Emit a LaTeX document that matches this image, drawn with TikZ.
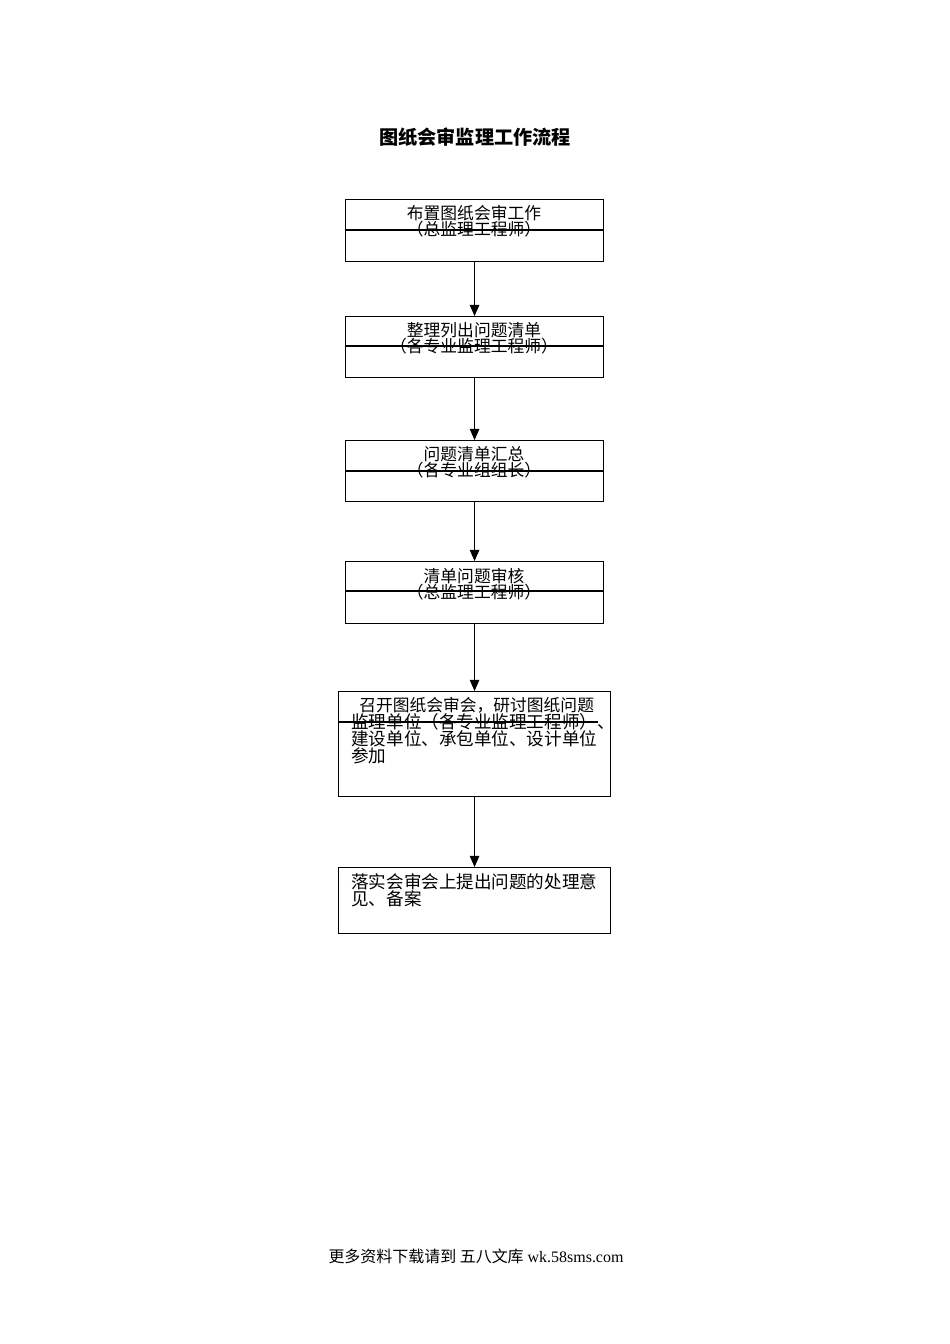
\documentclass[tikz,border=0pt]{standalone}
\usepackage{fontspec}
\usepackage{tikz}
\usetikzlibrary{calc,arrows.meta}
\setmainfont{Liberation Serif}
\newfontfamily\cjk{Noto Sans CJK SC}

\begin{document}
\begin{tikzpicture}[x=0.6263pt,y=-0.6263pt,
    box/.style={draw, line width=0.7pt, anchor=north west, inner sep=0pt},
    txt/.style={font=\cjk\fontsize{10.5}{10.5}\selectfont, inner sep=0pt},
    arr/.style={-{Triangle[length=7pt,width=6pt]}, line width=0.7pt}]

    \useasboundingbox (0,0) rectangle (950,1344);

    % -- Title --
    \node[font=\cjk\bfseries\fontsize{12}{14}\selectfont] (title) at (475,137)
        {图纸会审监理工作流程};

    % -- Boxes --
    \node[box, minimum width=258*0.6263pt, minimum height=62*0.6263pt] (b1) at (345,199) {};
    \node[box, minimum width=258*0.6263pt, minimum height=61*0.6263pt] (b2) at (345,316) {};
    \node[box, minimum width=258*0.6263pt, minimum height=61*0.6263pt] (b3) at (345,440) {};
    \node[box, minimum width=258*0.6263pt, minimum height=62*0.6263pt] (b4) at (345,561) {};
    \node[box, minimum width=272*0.6263pt, minimum height=105*0.6263pt] (b5) at (338,691) {};
    \node[box, minimum width=272*0.6263pt, minimum height=66*0.6263pt] (b6) at (338,867) {};

    % -- Inner rules --
    \draw[line width=0.7pt] ($(b1.north west)+(0,31)$) -- ($(b1.north east)+(0,31)$);
    \draw[line width=0.7pt] ($(b2.north west)+(0,30)$) -- ($(b2.north east)+(0,30)$);
    \draw[line width=0.7pt] ($(b3.north west)+(0,31)$) -- ($(b3.north east)+(0,31)$);
    \draw[line width=0.7pt] ($(b4.north west)+(0,30)$) -- ($(b4.north east)+(0,30)$);
    \draw[line width=0.7pt] ($(b5.north west)+(0,31)$) -- ($(b5.north west)+(260,31)$);

    % -- Texts --
    \node[txt] (t1a) at (474,213) {布置图纸会审工作};
    \node[txt] (t1b) at (474,229) {（总监理工程师）};
    \node[txt] (t2a) at (474,330) {整理列出问题清单};
    \node[txt] (t2b) at (474,346) {（各专业监理工程师）};
    \node[txt] (t3a) at (474,454) {问题清单汇总};
    \node[txt] (t3b) at (474,470) {（各专业组组长）};
    \node[txt] (t4a) at (474,576) {清单问题审核};
    \node[txt] (t4b) at (474,592) {（总监理工程师）};
    \node[txt, anchor=north west, align=left,
          font=\cjk\fontsize{11}{10.6}\selectfont] (t5) at (351,697)
        {\hspace{5pt}{\fontsize{10.5}{10.6}\selectfont 召开图纸会审会，研讨图纸问题}\\
         监理单位（各专业监理工程师）、\\
         建设单位、承包单位、设计单位\\
         参加};
    \node[txt, anchor=north west, align=left,
          font=\cjk\fontsize{11}{10.6}\selectfont] (t6) at (351,873)
        {落实会审会上提出问题的处理意\\见、备案};

    % -- Arrows --
    \draw[arr] (b1) -- (b2);
    \draw[arr] (b2) -- (b3);
    \draw[arr] (b3) -- (b4);
    \draw[arr] (b4) -- (b5);
    \draw[arr] (b5) -- (b6);

    % -- Footer --
    \node[font=\fontsize{10}{12}\selectfont, inner sep=0pt] (foot) at (476,1256)
        {{\cjk 更多资料下载请到 五八文库} wk.58sms.com};

\end{tikzpicture}
\end{document}
